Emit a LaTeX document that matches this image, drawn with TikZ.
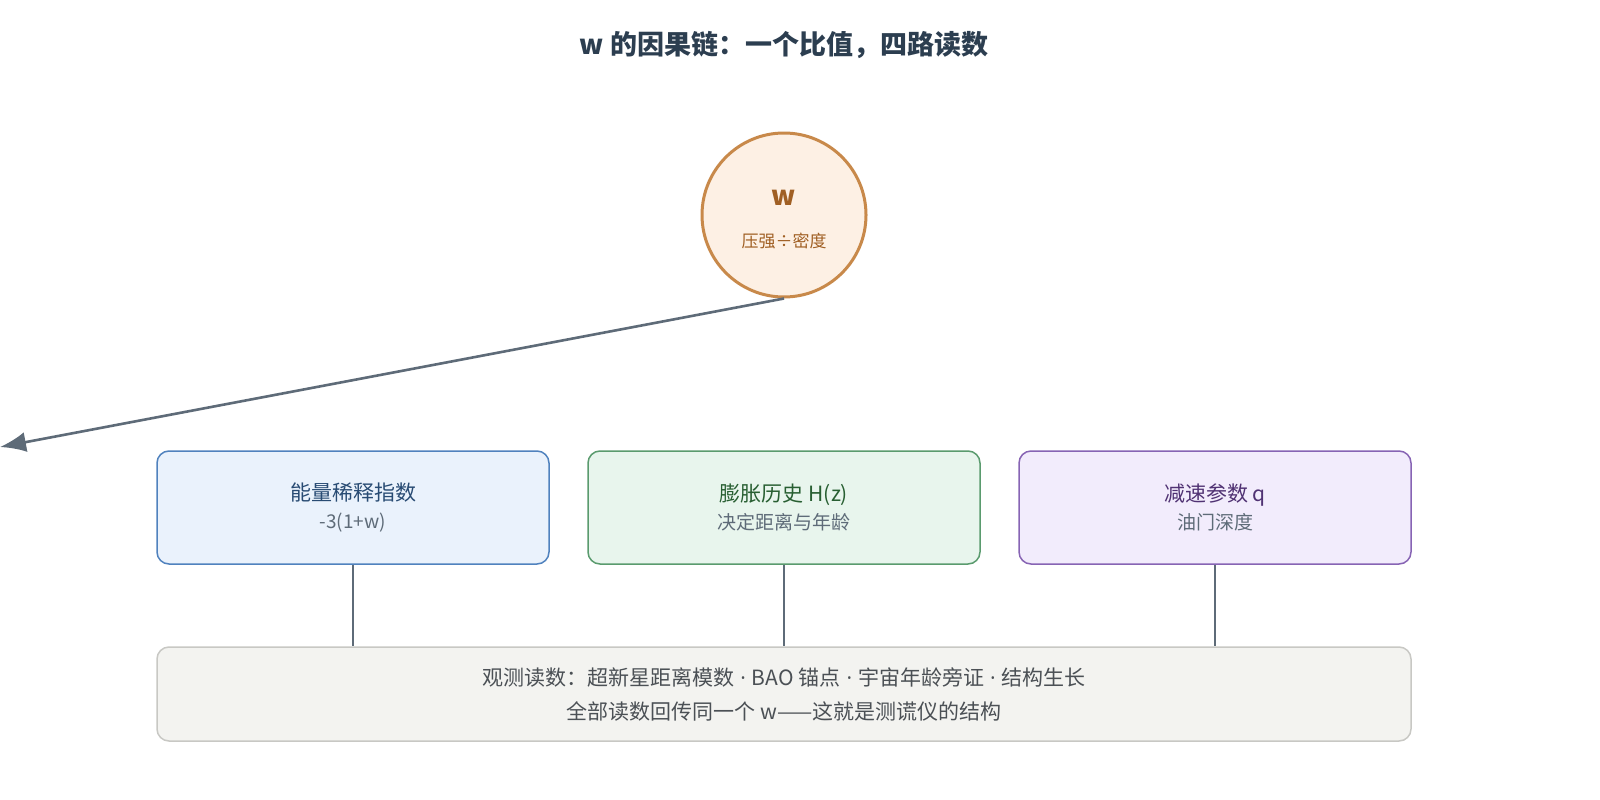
\documentclass[tikz,border=0pt]{standalone}
\usepackage{fontspec}
\setmainfont{Noto Sans CJK SC}
\newfontfamily\latinf{Open Sans}
\newcommand{\mdot}{\hspace{6pt}{\latinf ·}\hspace{6pt}}
\usetikzlibrary{arrows.meta}
\definecolor{edge}{HTML}{5E6B78}
\definecolor{txt}{HTML}{2C3E50}
\tikzset{
 box/.style={draw, line width=1.5pt, rounded corners=12pt, minimum width=392pt, minimum height=113pt, align=center, font=\fontsize{21}{30}\selectfont},
 link/.style={draw=edge, line width=2.6pt},
}
\begin{document}
\begin{tikzpicture}[x=1pt,y=-1pt]
\useasboundingbox[fill=white] (0,0) rectangle (1600,800);
\node[font=\bfseries\fontsize{27}{30}\selectfont, text=txt] (title) at (784,45) {w 的因果链：一个比值，四路读数};
\node[circle, draw={rgb,255:red,200;green,137;blue,74}, fill={rgb,255:red,253;green,240;blue,228}, line width=3pt, minimum size=164pt, align=center, inner sep=0] (w) at (784,215) {};
\node[font=\bfseries\fontsize{27}{30}\selectfont, text={rgb,255:red,160;green,95;blue,35}] (wl) at (784,198) {w};
\node[font=\fontsize{17}{20}\selectfont, text={rgb,255:red,160;green,95;blue,35}] (wsub) at (784,241) {压强÷密度};
\coordinate (tip) at (0,447);
\draw[link, -{Latex[length=26pt,width=20pt]}] (w.south) -- (tip);
\node[box, draw={rgb,255:red,80;green,130;blue,190}, fill={rgb,255:red,234;green,242;blue,252}, text={rgb,255:red,40;green,75;blue,115}] (a) at (353,507.5) {能量稀释指数\\[-2pt]{\color{edge}\fontsize{19}{22}\selectfont -3(1+w)}};
\node[box, draw={rgb,255:red,90;green,155;blue,110}, fill={rgb,255:red,232;green,245;blue,237}, text={rgb,255:red,40;green,95;blue,50}] (b) at (784,507.5) {膨胀历史 H(z)\\[-2pt]{\color{edge}\fontsize{19}{22}\selectfont 决定距离与年龄}};
\node[box, draw={rgb,255:red,135;green,100;blue,180}, fill={rgb,255:red,242;green,236;blue,252}, text={rgb,255:red,80;green,50;blue,115}] (c) at (1215,507.5) {减速参数 q\\[-2pt]{\color{edge}\fontsize{19}{22}\selectfont 油门深度}};
\node[box, minimum width=1254pt, minimum height=94pt, draw={rgb,255:red,200;green,200;blue,196}, fill={rgb,255:red,243;green,243;blue,240}, text={rgb,255:red,75;green,80;blue,85}, font=\fontsize{21}{34}\selectfont] (d) at (784,694) {观测读数：超新星距离模数\mdot BAO 锚点\mdot 宇宙年龄旁证\mdot 结构生长\\全部读数回传同一个 w——这就是测谎仪的结构};
\draw[link] (a.south) -- (a.south |- d.north);
\draw[link] (b.south) -- (d.north);
\draw[link] (c.south) -- (c.south |- d.north);
\end{tikzpicture}
\end{document}
